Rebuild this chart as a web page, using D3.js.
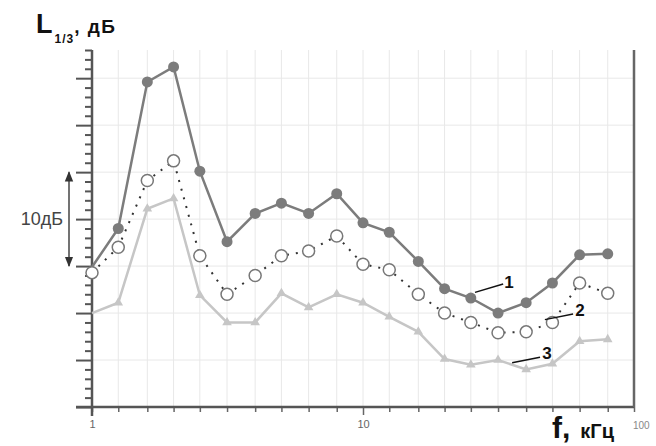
<!doctype html>
<html lang="ru">
<head>
<meta charset="utf-8" />
<title>L1/3, дБ</title>
<script src="https://d3js.org/d3.v7.min.js"></script>
<style>
  body { margin: 0; background: #fff; }
  svg { display: block; font-family: "Liberation Sans", Arial, sans-serif; }
</style>
</head>
<body>
<div id="chart"></div>
<script>
// third-octave band centres, kHz
const freqs = [1, 1.25, 1.6, 2, 2.5, 3.15, 4, 5, 6.3, 8, 10, 12.5, 16, 20, 25, 31.5, 40, 50, 63, 80];
const gridFreqs = [1.25, 1.6, 2, 2.5, 3.15, 4, 5, 6.3, 8, 10, 12.5, 16, 20, 25, 31.5, 40, 50, 63, 80];
const xLabels = [1, 10];

// levels, dB (relative)
const curve1 = [14.9, 19.0, 34.6, 36.2, 25.1, 17.6, 20.6, 21.7, 20.6, 22.7, 19.6, 18.6, 15.5, 12.6, 11.6, 10.0, 11.1, 13.2, 16.2, 16.3];
const curve2 = [14.3, 17.0, 24.1, 26.2, 16.1, 12.0, 14.0, 16.1, 16.6, 18.2, 15.2, 14.6, 12.0, 10.0, 9.0, 7.9, 8.0, 9.0, 13.2, 12.1];
const curve3 = [10.0, 11.1, 21.1, 22.2, 11.9, 9.0, 9.0, 12.1, 10.6, 12.0, 11.1, 9.6, 8.0, 5.1, 4.5, 5.0, 4.0, 4.6, 7.0, 7.2];

// curve labels: text position and leader line, in (kHz, dB)
const notes = [
  { t: "1", f: 34.6, v: 13.3, l: [[25.9, 12.2], [32.9, 13.1]] },
  { t: "2", f: 63.2, v: 10.3, l: [[46.9, 9.3], [59.6, 9.9]] },
  { t: "3", f: 47.7, v: 5.7, l: [[35.5, 4.7], [45.0, 5.3]] }
];

const W = 656, H = 446;
const svg = d3.select("#chart").append("svg")
  .attr("width", W).attr("height", H);

const x = d3.scaleLog().domain([1, 100]).range([92, 634]);
const y = d3.scaleLinear().domain([0, 38]).range([407, 50]);

// grid
svg.append("g").selectAll("line.v")
  .data(gridFreqs).enter().append("line")
  .attr("x1", d => x(d)).attr("x2", d => x(d))
  .attr("y1", y(0)).attr("y2", y(38))
  .attr("stroke", "#e8e8e8").attr("stroke-width", 1);
svg.append("g").selectAll("line.h")
  .data(d3.range(5, 38, 5)).enter().append("line")
  .attr("x1", x(1)).attr("x2", x(100))
  .attr("y1", d => y(d)).attr("y2", d => y(d))
  .attr("stroke", "#e8e8e8").attr("stroke-width", 1);

// y axis ticks
const yAxis = d3.axisLeft(y)
  .tickValues(d3.range(0, 39))
  .tickFormat("")
  .tickSizeOuter(0);
const gy = svg.append("g").attr("transform", `translate(${x(1)},0)`).call(yAxis);
gy.select(".domain").remove();
gy.selectAll(".tick line")
  .attr("x2", d => d % 5 === 0 ? -16 : -7)
  .attr("stroke", "#555").attr("stroke-width", 2);

// x axis ticks
const xAxis = d3.axisBottom(x)
  .tickValues(freqs.concat([100]))
  .tickFormat(d => xLabels.includes(d) ? d : "")
  .tickSize(5).tickSizeOuter(0);
const gx = svg.append("g").attr("transform", `translate(0,${y(0)})`).call(xAxis);
gx.select(".domain").remove();
gx.selectAll(".tick line").attr("stroke", "#666").attr("stroke-width", 1.5)
  .attr("y2", d => d === 10 ? 8 : 5);
gx.selectAll(".tick text")
  .attr("y", 13).attr("font-size", 11).attr("fill", "#666")
  .attr("font-family", "'Liberation Sans', Arial, sans-serif");

// axis lines and right frame
svg.append("line").attr("x1", x(1)).attr("x2", x(1))
  .attr("y1", y(38)).attr("y2", y(0) + 9)
  .attr("stroke", "#555").attr("stroke-width", 2.5);
svg.append("line").attr("x1", x(1) - 16).attr("x2", x(100))
  .attr("y1", y(0)).attr("y2", y(0))
  .attr("stroke", "#555").attr("stroke-width", 2.5);
svg.append("line").attr("x1", x(100)).attr("x2", x(100))
  .attr("y1", y(38)).attr("y2", y(0))
  .attr("stroke", "#666").attr("stroke-width", 2.5);

const line = d3.line().x((d, i) => x(freqs[i])).y(d => y(d));

// curve 3, light, triangles
svg.append("path").datum(curve3).attr("d", line)
  .attr("fill", "none").attr("stroke", "#c6c6c6").attr("stroke-width", 2.5);
svg.append("g").selectAll("path")
  .data(curve3.slice(1)).enter().append("path")
  .attr("d", d3.symbol().type(d3.symbolTriangle).size(40))
  .attr("transform", (d, i) => `translate(${x(freqs[i + 1])},${y(d)})`)
  .attr("fill", "#c6c6c6");

// curve 1, dark, filled circles
svg.append("path").datum(curve1).attr("d", line)
  .attr("fill", "none").attr("stroke", "#7c7c7c").attr("stroke-width", 2.5);
svg.append("g").selectAll("circle")
  .data(curve1.slice(1)).enter().append("circle")
  .attr("cx", (d, i) => x(freqs[i + 1])).attr("cy", d => y(d))
  .attr("r", 5.5).attr("fill", "#7c7c7c");

// curve 2, dotted, open circles
svg.append("path").datum(curve2).attr("d", line)
  .attr("fill", "none").attr("stroke", "#333").attr("stroke-width", 2)
  .attr("stroke-dasharray", "2,7");
svg.append("g").selectAll("circle")
  .data(curve2).enter().append("circle")
  .attr("cx", (d, i) => x(freqs[i])).attr("cy", d => y(d))
  .attr("r", 6).attr("fill", "#fff").attr("stroke", "#777").attr("stroke-width", 1.5);

// curve labels
notes.forEach(n => {
  svg.append("line")
    .attr("x1", x(n.l[0][0])).attr("y1", y(n.l[0][1]))
    .attr("x2", x(n.l[1][0])).attr("y2", y(n.l[1][1]))
    .attr("stroke", "#111").attr("stroke-width", 1.5);
  svg.append("text").attr("x", x(n.f)).attr("y", y(n.v))
    .attr("text-anchor", "middle").attr("dominant-baseline", "central")
    .attr("font-size", 17).attr("font-weight", "bold").attr("fill", "#111")
    .text(n.t);
});

// 10 dB scale arrow
svg.append("defs").append("marker")
  .attr("id", "ah").attr("viewBox", "0 0 10 10")
  .attr("refX", 9).attr("refY", 5)
  .attr("markerWidth", 7).attr("markerHeight", 7)
  .attr("orient", "auto-start-reverse")
  .append("path").attr("d", "M0,1 L10,5 L0,9 Z").attr("fill", "#333");
svg.append("line").attr("x1", 69).attr("x2", 69)
  .attr("y1", y(25)).attr("y2", y(15))
  .attr("stroke", "#444").attr("stroke-width", 1.5)
  .attr("marker-start", "url(#ah)").attr("marker-end", "url(#ah)");
svg.append("text").attr("x", 63).attr("y", y(20))
  .attr("text-anchor", "end").attr("dominant-baseline", "central")
  .attr("font-size", 18).attr("fill", "#444").text("10дБ");

// axis titles
const yt = svg.append("text").attr("x", 36).attr("y", 33).attr("fill", "#111").attr("font-weight", "bold");
yt.append("tspan").attr("font-size", 27).text("L");
yt.append("tspan").attr("font-size", 12).attr("dy", 10).attr("dx", 2).attr("letter-spacing", 1).text("1/3");
yt.append("tspan").attr("font-size", 19).attr("dy", -10).attr("letter-spacing", 1.5).text(", дБ");

const xt = svg.append("text").attr("x", 552).attr("y", 438).attr("fill", "#111").attr("font-weight", "bold");
xt.append("tspan").attr("font-size", 30).text("f,");
xt.append("tspan").attr("font-size", 20).attr("dx", 10).text("кГц");
svg.append("text").attr("x", x(100) - 1).attr("y", 429)
  .attr("font-size", 10).attr("fill", "#888").text("100");
</script>
</body>
</html>
